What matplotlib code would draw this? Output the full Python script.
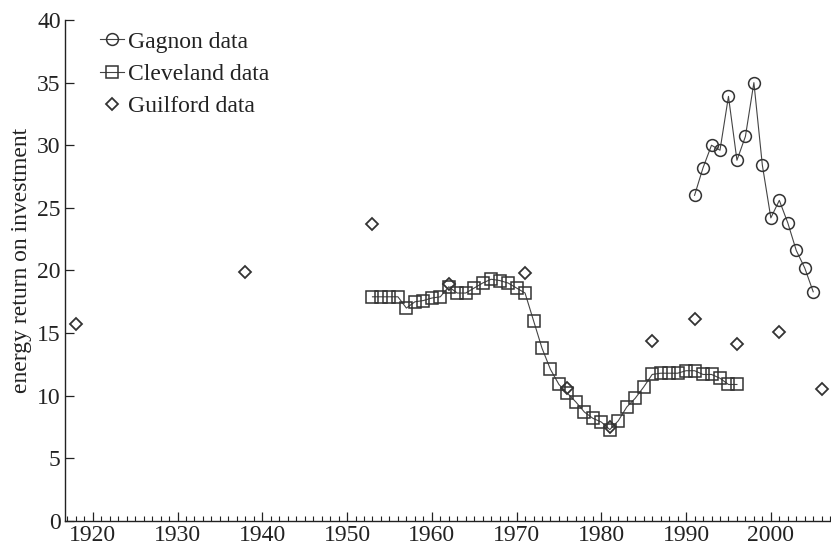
import matplotlib
matplotlib.use("Agg")
import matplotlib.pyplot as plt
from matplotlib.ticker import MultipleLocator

plt.rcParams['font.family'] = ['Liberation Serif', 'DejaVu Serif']

gagnon_years = [1991, 1992, 1993, 1994, 1995, 1996, 1997, 1998, 1999, 2000,
                2001, 2002, 2003, 2004, 2005]
gagnon_eroi = [26.0, 28.2, 30.0, 29.6, 33.9, 28.8, 30.7, 35.0, 28.4, 24.2,
               25.6, 23.8, 21.6, 20.2, 18.3]

cleveland_years = list(range(1953, 1997))
cleveland_eroi = [17.9, 17.9, 17.9, 17.9, 17.0, 17.5, 17.6, 17.8, 17.9, 18.7,
                  18.2, 18.2, 18.6, 19.0, 19.3, 19.2, 19.0, 18.6, 18.2, 16.0,
                  13.8, 12.1, 10.9, 10.2, 9.5, 8.7, 8.2, 7.9, 7.3, 8.0,
                  9.1, 9.8, 10.7, 11.7, 11.8, 11.8, 11.8, 12.0, 12.0, 11.7,
                  11.7, 11.4, 10.9, 10.9]

guilford_years = [1918, 1938, 1953, 1962, 1971, 1976, 1981, 1986, 1991, 1996,
                  2001, 2006]
guilford_eroi = [15.7, 19.9, 23.7, 18.9, 19.8, 10.6, 7.5, 14.4, 16.1, 14.1,
                 15.1, 10.5]

ink = '#333333'
txt = '#222222'
fs = 17

fig = plt.figure(figsize=(8.31, 5.50), dpi=100)
ax = fig.add_axes([0.078, 0.0527, 0.921, 0.911])

ax.plot(gagnon_years, gagnon_eroi, color='#444444', lw=0.8, marker='o',
        markersize=8.5, markerfacecolor='none', markeredgecolor=ink,
        markeredgewidth=1.1, label='Gagnon data')
ax.plot(cleveland_years, cleveland_eroi, color='#444444', lw=0.8, marker='s',
        markersize=8.5, markerfacecolor='none', markeredgecolor=ink,
        markeredgewidth=1.1, label='Cleveland data')
ax.plot(guilford_years, guilford_eroi, linestyle='none', marker='D',
        markersize=6.3, markerfacecolor='none', markeredgecolor=ink,
        markeredgewidth=1.3, label='Guilford data')

ax.set_xlim(1916.7, 2007)
ax.set_ylim(0, 40)
ax.xaxis.set_major_locator(MultipleLocator(10))
ax.xaxis.set_minor_locator(MultipleLocator(1))
ax.yaxis.set_major_locator(MultipleLocator(5))

for side in ('top', 'right'):
    ax.spines[side].set_visible(False)
for side in ('left', 'bottom'):
    ax.spines[side].set_color(txt)
    ax.spines[side].set_linewidth(1.0)

ax.tick_params(axis='both', which='major', direction='in', length=6.5,
               width=0.9, colors=txt, labelsize=fs, pad=3)
ax.tick_params(axis='x', which='minor', direction='in', length=3.5, width=0.8,
               colors=txt)
ax.tick_params(axis='y', which='minor', left=False)

ax.set_ylabel('energy return on investment', fontsize=fs, color=txt)
ax.yaxis.set_label_coords(-0.0435, 0.52)

leg = ax.legend(loc='upper left', bbox_to_anchor=(0.027, 1.006), frameon=False,
                fontsize=fs, handlelength=1.05, handletextpad=0.17,
                labelspacing=0.45, borderaxespad=0.2)
for t in leg.get_texts():
    t.set_color(txt)

fig.savefig('out.png', dpi=100)
